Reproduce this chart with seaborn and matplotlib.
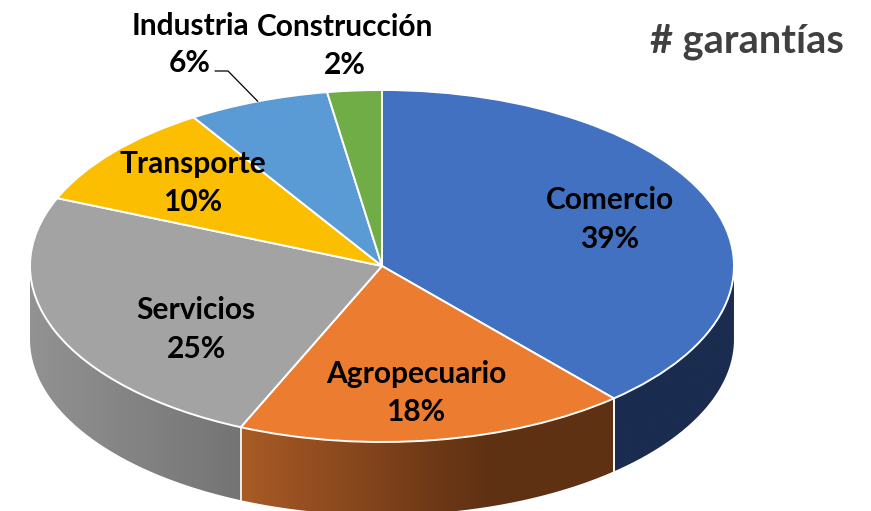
import numpy as np
import matplotlib
matplotlib.use("Agg")
import matplotlib.pyplot as plt
from matplotlib.patches import PathPatch
from matplotlib.path import Path
import seaborn as sns

sectores = ["Comercio", "Agropecuario", "Servicios", "Transporte", "Industria", "Construcción"]
garantias = [38.51, 18.0, 24.7, 9.7, 6.49, 2.49]
colores = ["#4371c1", "#eb7c30", "#a3a3a3", "#fcbe00", "#5b9bd5", "#70ad47"]

# side wall gradients, left to right
paredes = {
    "Comercio": ["#1a2c4f", "#1a2c4f"],
    "Agropecuario": ["#a85c26", "#974f21", "#84451c", "#6f3a17", "#5f3113", "#5f3113", "#5f3113"],
    "Servicios": ["#929292", "#747474"],
}

sns.set_theme(style="white")
plt.rcParams["font.family"] = ["Lato", "DejaVu Sans"]

W, H = 871, 511
CX, CY, RX, RY = 382, 266, 352, 176
DEPTH = 73 / RY


def px(x, y):
    # picture pixels to pie units
    return (x - CX) / RX, (CY - y) / RY


fig = plt.figure(figsize=(W / 100, H / 100), dpi=100)
ax = fig.add_axes([0, 0, 1, 1])

wedges, _ = ax.pie(
    garantias,
    colors=colores,
    startangle=90,
    counterclock=False,
    wedgeprops={"edgecolor": "white", "linewidth": 1.4, "zorder": 3},
)

# the 3d wall under the front of the pie
for nombre, wedge in zip(sectores, wedges):
    if nombre not in paredes:
        continue
    t = np.radians(np.linspace(wedge.theta1, wedge.theta2, 300))
    t = t[np.sin(t) <= 0]
    x = np.cos(t)
    y = np.sin(t)
    verts = np.vstack([np.c_[x, y], np.c_[x[::-1], y[::-1] - DEPTH], [[x[0], y[0]]]])
    clip = PathPatch(Path(verts), transform=ax.transData, fc="none", ec="none")
    ax.add_patch(clip)
    cmap = sns.blend_palette(paredes[nombre], as_cmap=True)
    img = ax.imshow(
        np.linspace(0, 1, 256)[None, :],
        cmap=cmap,
        aspect="auto",
        extent=[x.min(), x.max(), y.min() - DEPTH, y.max()],
        zorder=1,
    )
    img.set_clip_path(clip)

# white seams between the walls
for wedge in wedges:
    a = np.radians(wedge.theta1)
    if np.sin(a) < 0 and np.radians(wedge.theta2) > a:
        for ang in [wedge.theta1, wedge.theta2]:
            r = np.radians(ang)
            if np.sin(r) < -0.5:
                ax.plot([np.cos(r)] * 2, [np.sin(r), np.sin(r) - DEPTH],
                        color="white", lw=1.2, zorder=2)

ax.set_aspect("auto")
x0, y0 = px(0, H)
x1, y1 = px(W, 0)
ax.set_xlim(x0, x1)
ax.set_ylim(y0, y1)
ax.axis("off")

# label centres in picture pixels: x, y of name, y of percent
posiciones = [(610, 200, 239), (416, 374, 412), (196, 310, 349),
              (193, 164, 202), (190, 26, 63), (345, 27, 65)]
for nombre, valor, (lx, ly1, ly2) in zip(sectores, garantias, posiciones):
    for texto, ly in [(nombre, ly1), (f"{valor:.0f}%", ly2)]:
        xt, yt = px(lx, ly)
        ax.text(xt, yt, texto, ha="center", va="center", fontsize=21.5,
                fontweight="bold", color="black", zorder=5)

# leader for Industria
mid = np.radians((wedges[4].theta1 + wedges[4].theta2) / 2)
codo = [px(215, 71), px(228, 71)]
ax.plot([codo[0][0], codo[1][0], np.cos(mid)], [codo[0][1], codo[1][1], np.sin(mid)],
        color="black", lw=0.9, zorder=5)

xt, yt = px(747, 42)
ax.text(xt, yt, "# garantías", ha="center", va="center", fontsize=28.6,
        fontweight="bold", color="#404040")

plt.savefig("out.png", dpi=100)
